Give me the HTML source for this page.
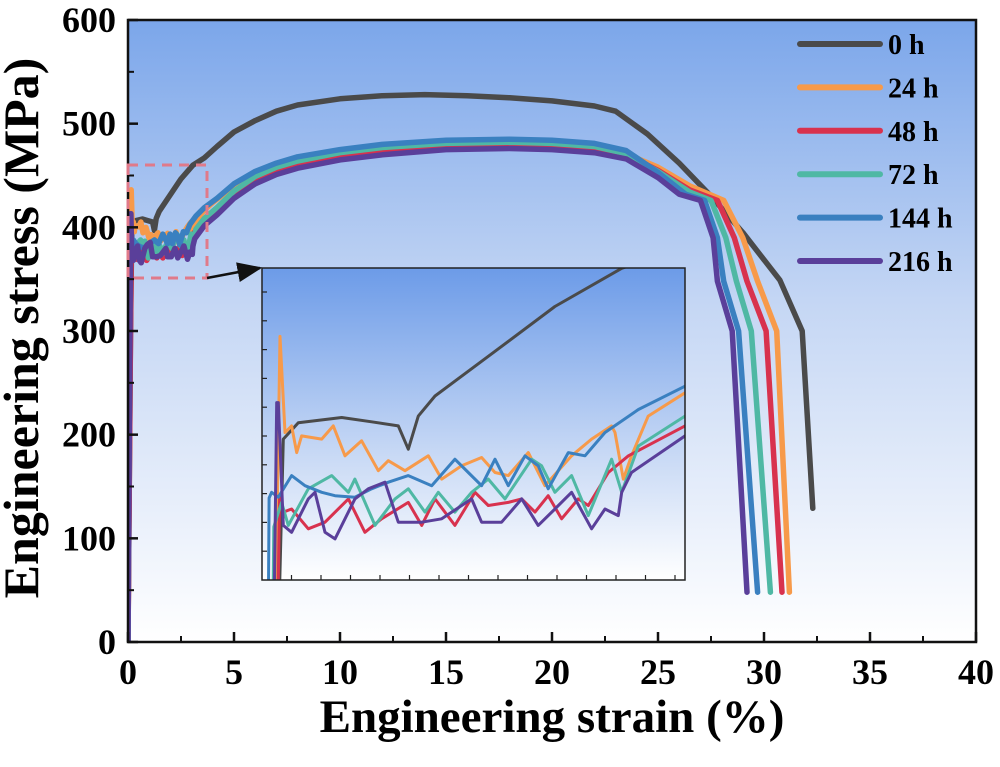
<!DOCTYPE html>
<html><head><meta charset="utf-8"><style>
html,body{margin:0;padding:0;background:#fff;overflow:hidden}
svg{display:block}
text{font-family:"Liberation Serif",serif;font-weight:bold;fill:#000}
</style></head><body>
<svg id="chart" width="1000" height="767" viewBox="0 0 1000 767">
<defs>
<linearGradient id="bg" x1="0" y1="0" x2="0" y2="1">
<stop offset="0" stop-color="#7ba6ea"/><stop offset="0.45" stop-color="#c4d6f4"/><stop offset="1" stop-color="#ffffff"/>
</linearGradient>
<linearGradient id="ibg" x1="0" y1="0" x2="0" y2="1">
<stop offset="0" stop-color="#6c9be8"/><stop offset="0.6" stop-color="#c8d9f5"/><stop offset="1" stop-color="#ffffff"/>
</linearGradient>
<clipPath id="mainclip"><rect x="128" y="20" width="848" height="622"/></clipPath>
<clipPath id="insetclip"><rect x="262" y="268" width="423" height="312"/></clipPath>
<marker id="arr" markerWidth="10" markerHeight="8" refX="9" refY="4" orient="auto"><path d="M0,0 L10,4 L0,8 z" fill="#111"/></marker>
</defs>
<rect x="128" y="20" width="848" height="622" fill="url(#bg)"/>
<g id="mainSeries" clip-path="url(#mainclip)"></g>
<rect x="128" y="20" width="848" height="622" fill="none" stroke="#111" stroke-width="2.5"/>
<g id="axes"></g>
<rect x="128" y="165" width="79" height="113" fill="none" stroke="#e07a8a" stroke-width="3" stroke-dasharray="10,7"/>
<line x1="207" y1="278" x2="260" y2="268" stroke="#111" stroke-width="2.5" marker-end="url(#arr)"/>
<rect x="262" y="268" width="423" height="312" fill="url(#ibg)"/>
<g id="insetSeries" clip-path="url(#insetclip)"></g>
<rect x="262" y="268" width="423" height="312" fill="none" stroke="#222" stroke-width="1.5"/>
<g id="insetTicks"></g>
<g id="legend"></g>
<text x="38" y="328" font-size="50" text-anchor="middle" transform="rotate(-90 38 328)">Engineering stress (MPa)</text>
<text x="552" y="732" font-size="47" text-anchor="middle">Engineering strain (%)</text>
</svg>
<script>
const seriesNames = ["0 h","24 h","48 h","72 h","144 h","216 h"];
const seriesColors = ["#4a4a4a","#f79a4a","#d8324e","#4fb8a4","#3a80c0","#5a3f9a"];
const xTicks = [0,5,10,15,20,25,30,35,40];
const yTicks = [0,100,200,300,400,500,600];

const strain0 = [0,0.12,0.181,0.309,0.678,0.933,1.16,1.245,1.33,1.472,1.926,2.493,3.061,3.6,4.2,5,6,7,8,10,12,14,16,18,20,22,23,24.5,26,27.5,29,30.75,31.8,32.3];
const stress0 = [0,300,400.5,406.2,408,406.5,405.1,397,408.5,415.5,429.3,446.6,459.9,467,478,492,503,512,518,524,527,528,527,525,522,517,512,490,462,430,395,349,300,129];

const strain24 = [0,0.1,0.153,0.196,0.252,0.295,0.337,0.508,0.607,0.706,0.848,0.99,1.075,1.217,1.415,1.529,1.699,1.869,1.983,2.096,2.266,2.408,2.635,2.805,2.975,3.004,3.075,3.145,3.287,3.6,4,5,6,7,8,10,12,15,18,20,22,23.5,25,26.5,28.1,29,29.7,30.6,31.2];
const stress24 = [0,300,436.2,402.8,405.1,395.8,401.6,400.5,405.1,394.7,399.9,389.5,393,389.5,394.7,386.6,391.2,394.1,388.9,387.8,395.8,384.3,394.7,400.5,405.1,402.8,386.6,394.7,408.5,416.6,424,440,451,459,465,472,476,480,481,480,478,471,458,440,426,390,348,300,48];

const strain48 = [0,0.15,0.181,0.252,0.394,0.536,0.735,0.876,1.018,1.245,1.359,1.472,1.642,1.813,1.926,2.096,2.21,2.323,2.436,2.55,2.692,2.777,2.947,3.118,3.6,4.2,5,6,7,8,10,12,15,18,20,22,23.5,25,26.5,27.8,28.6,29.2,30.1,30.85];
const stress48 = [0,380,375.1,376.2,369.3,371.6,379.7,368.1,372.8,378.5,370.5,379.7,370.5,382,377.4,378.5,379.7,375.1,380.8,372.8,379.7,377.4,388.9,394.7,405.1,416,432,446,455,461,469,474,478,479,478,476,470,455,436,426,390,348,300,48];

const strain72 = [0,0.1,0.167,0.224,0.394,0.593,0.735,0.791,0.962,1.132,1.245,1.387,1.5,1.642,1.784,1.926,2.068,2.295,2.38,2.493,2.635,2.777,2.975,3.061,3.203,3.6,4.2,5,6,7,8,10,12,15,18,20,22,23.5,25,26.5,27.5,28.2,28.7,29.4,30.3];
const stress72 = [0,370,378.5,370.5,383.2,387.8,382,386.6,370.5,379.7,383.2,375.1,382,375.1,382,386.6,379.7,393.5,391.2,382,387.8,373.9,393.5,382,398.1,408.5,419,435,449,458,464,472,477,481,482,481,478,471,454,434,426,390,348,300,48];

const strain144 = [0,0.06,0.082,0.139,0.252,0.366,0.508,0.621,0.791,0.933,1.075,1.245,1.444,1.642,1.756,1.869,1.983,2.096,2.238,2.351,2.436,2.607,2.749,2.919,3.203,3.6,4.2,5,6,7,8,10,12,15,18,20,22,23.5,25,26.3,27.2,27.8,28.1,28.8,29.7];
const stress144 = [0,380,382,380.3,387.8,384.3,382,380.8,380.3,383.2,385.5,387.8,384.3,393.5,388.9,384.3,393.5,384.3,394.7,391.2,383.2,395.8,394.7,402.8,410.8,418.9,428,442,454,462,468,475,480,484,485,484,481,474,453,432,426,390,348,300,48];

const strain216 = [0,0.125,0.139,0.181,0.252,0.394,0.451,0.536,0.621,0.791,0.905,1.047,1.16,1.359,1.529,1.784,1.869,2.039,2.21,2.351,2.493,2.635,2.805,2.919,3.032,3.061,3.145,3.6,4.2,5,6,7,8,10,12,15,18,20,22,23.5,25,26,27,27.6,27.8,28.5,29.2];
const stress216 = [0,413.2,413.2,370.5,368.1,379.7,382,368.1,365.8,379.7,383.2,385.5,371.6,371.6,372.8,379.7,371.6,371.6,379.7,370.5,376.2,382,369.3,376.2,373.9,382,388.9,401.6,412,428,442,451,457,465,470,475,476,475,472,466,448,432,426,390,348,300,48];

const strainSets = [strain0,strain24,strain48,strain72,strain144,strain216];
const stressSets = [stress0,stress24,stress48,stress72,stress144,stress216];

const NS = "http://www.w3.org/2000/svg";
const X0=128,X1=976,Y0=642,Y1=20;
function xMain(v){return X0+(v-0)/(40-0)*(X1-X0);}
function yMain(v){return Y0-(v-0)/(600-0)*(Y0-Y1);}
const IX0=262,IX1=685,IY0=580,IY1=268;
function xInset(v){return IX0+(v-0)/(3.6-0)*(IX1-IX0);}
function yInset(v){return IY0-(v-351.5)/(460-351.5)*(IY0-IY1);}

function mk(tag,attrs){const e=document.createElementNS(NS,tag);for(const k in attrs)e.setAttribute(k,attrs[k]);return e;}

const mainG=document.getElementById("mainSeries");
const insetG=document.getElementById("insetSeries");
for(let i=0;i<seriesNames.length;i++){
  const xs=strainSets[i],ys=stressSets[i];
  let d="",di="";
  for(let j=0;j<xs.length;j++){
    d+=(j?"L":"M")+xMain(xs[j]).toFixed(1)+","+yMain(ys[j]).toFixed(1);
    di+=(j?"L":"M")+xInset(xs[j]).toFixed(1)+","+yInset(ys[j]).toFixed(1);
  }
  const p=mk("path",{d:d,fill:"none",stroke:seriesColors[i],"stroke-width":5.5,"stroke-linejoin":"round","stroke-linecap":"round"});
  
  
  mainG.appendChild(p);
  const q=mk("path",{d:di,fill:"none",stroke:seriesColors[i],"stroke-width":3,"stroke-linejoin":"round","stroke-linecap":"round"});
  
  
  insetG.appendChild(q);
}

const axG=document.getElementById("axes");
for(let i=0;i<xTicks.length;i++){
  const x=xMain(xTicks[i]);
  const t=mk("line",{x1:x,y1:Y0,x2:x,y2:Y0-10,stroke:"#111","stroke-width":2.5});
  
  
  axG.appendChild(t);
  if(i<xTicks.length-1){const xm=xMain(xTicks[i]+2.5);
    const m=mk("line",{x1:xm,y1:Y0,x2:xm,y2:Y0-6,stroke:"#111","stroke-width":2});
    
    
    axG.appendChild(m);}
  const l=mk("text",{x:x,y:Y0+42,"font-size":36,"text-anchor":"middle"});
  l.textContent=xTicks[i];
  
  
  axG.appendChild(l);
}
for(let i=0;i<yTicks.length;i++){
  const y=yMain(yTicks[i]);
  const t=mk("line",{x1:X0,y1:y,x2:X0+10,y2:y,stroke:"#111","stroke-width":2.5});
  
  
  axG.appendChild(t);
  if(i<yTicks.length-1){const ym=yMain(yTicks[i]+50);
    const m=mk("line",{x1:X0,y1:ym,x2:X0+6,y2:ym,stroke:"#111","stroke-width":2});
    
    
    axG.appendChild(m);}
  const l=mk("text",{x:X0-12,y:y+12,"font-size":36,"text-anchor":"end"});
  l.textContent=yTicks[i];
  
  
  axG.appendChild(l);
}

const itG=document.getElementById("insetTicks");
for(let k=1;k<=14;k++){
  const x=IX0+k*29.5;
  const t=mk("line",{x1:x,y1:IY0,x2:x,y2:IY0-5,stroke:"#222","stroke-width":1.2});
  
  
  itG.appendChild(t);
}
for(let k=1;k<=10;k++){
  const y=IY0-k*28.8;
  const t=mk("line",{x1:IX0,y1:y,x2:IX0+5,y2:y,stroke:"#222","stroke-width":1.2});
  
  
  itG.appendChild(t);
}

const lg=document.getElementById("legend");
for(let i=0;i<seriesNames.length;i++){
  const y=44+i*43.4;
  const ln=mk("line",{x1:800,y1:y,x2:880,y2:y,stroke:seriesColors[i],"stroke-width":6,"stroke-linecap":"round"});
  
  
  lg.appendChild(ln);
  const tx=mk("text",{x:888,y:y+10,"font-size":28});
  tx.textContent=seriesNames[i];
  
  
  lg.appendChild(tx);
}
</script>
</body></html>
